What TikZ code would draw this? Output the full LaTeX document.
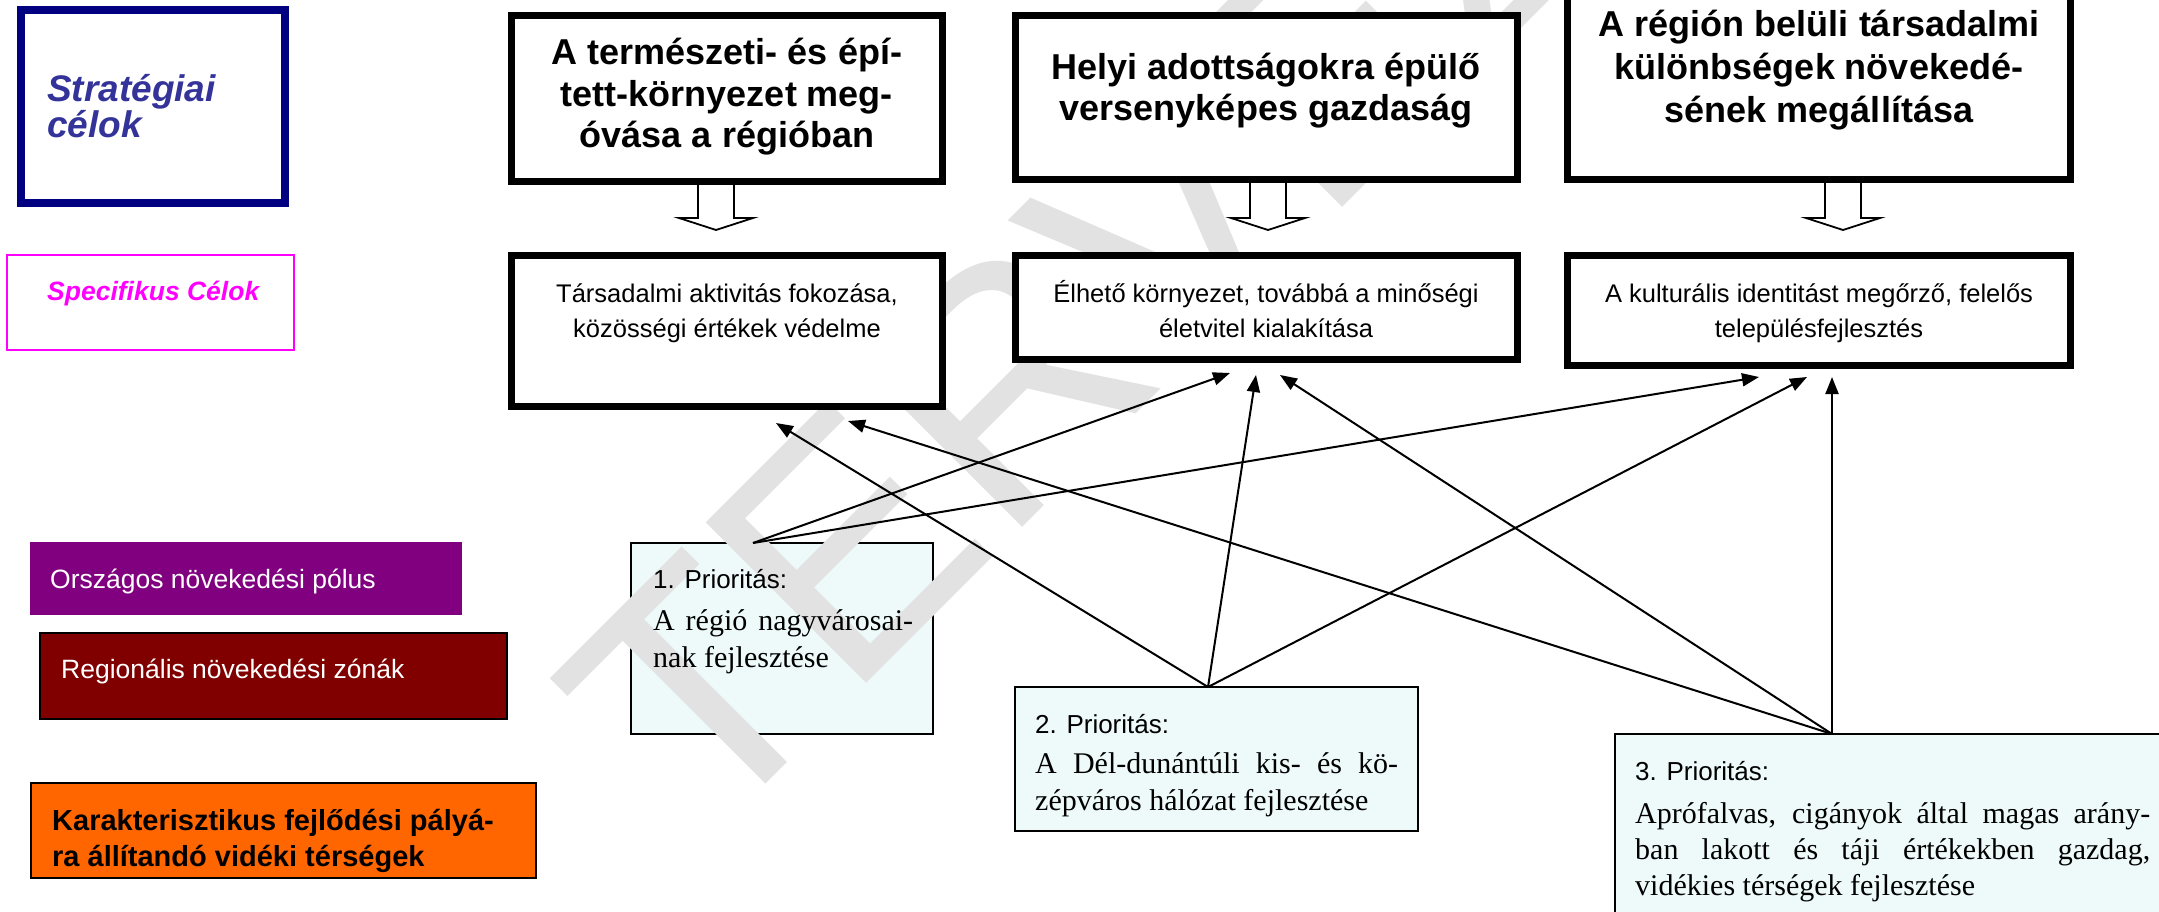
\documentclass[tikz,border=0pt]{standalone}
\usepackage{fontspec}
\setmainfont{Liberation Sans}
\newfontfamily\seriffam{Liberation Serif}
\usetikzlibrary{arrows.meta}
\definecolor{navyb}{HTML}{000080}
\definecolor{strtxt}{HTML}{333399}
\definecolor{magen}{HTML}{FF00FF}
\definecolor{purp}{HTML}{800080}
\definecolor{dred}{HTML}{800000}
\definecolor{orng}{HTML}{FF6600}
\definecolor{prio}{HTML}{EEFAFA}
\definecolor{wmark}{HTML}{E2E2E2}
\tikzset{
  goal/.style={draw=black, line width=7pt, fill=white, anchor=north west, inner sep=0pt, outer sep=0pt},
  goaltxt/.style={anchor=base, inner sep=0pt, font=\bfseries\fontsize{36}{40}\selectfont},
  spectxt/.style={anchor=base, inner sep=0pt, font=\fontsize{25.5}{30}\selectfont},
  prbox/.style={draw=black, line width=1.5pt, fill=prio, anchor=north west, inner sep=0pt, outer sep=0pt},
  prtitle/.style={anchor=base west, inner sep=0pt, font=\fontsize{26}{30}\selectfont},
  prtext/.style={anchor=base west, inner sep=0pt, font=\seriffam\fontsize{30}{34}\selectfont},
  legbox/.style={anchor=north west, inner sep=0pt, outer sep=0pt},
  legtxt/.style={anchor=base west, inner sep=0pt},
  conn/.style={line width=2pt, -{Triangle[length=17pt,width=13pt]}},
  hollow/.style={draw=black, line width=1.8pt, fill=white, line join=miter},
}
\begin{document}
\begin{tikzpicture}[x=1pt,y=-1pt]
\useasboundingbox (0,0) rectangle (2159,912);
\fill[white] (0,0) rectangle (2159,912);

% priority boxes (under the watermark)
\node[prbox, minimum width=302pt, minimum height=191pt] (p1) at (631,543) {};
\node[prbox, minimum width=403pt, minimum height=144pt] (p2) at (1015,687) {};
\node[prbox, minimum width=600pt, minimum height=250pt] (p3) at (1615,734) {};

% watermark
\node[rotate=45, anchor=base west, inner sep=0pt, text=wmark, font=\fontsize{330}{330}\selectfont] (wm) at (705,845) {TERVEZET};

% strategic / specific labels
\node[legbox, draw=navyb, line width=8pt, minimum width=264pt, minimum height=193pt] (strat) at (21,10) {};
\node[legtxt, text=strtxt, font=\bfseries\itshape\fontsize{37}{36}\selectfont] (strata) at (47,102) {Stratégiai};
\node[legtxt, text=strtxt, font=\bfseries\itshape\fontsize{37}{36}\selectfont] (stratb) at (47,138) {célok};
\node[legbox, draw=magen, line width=2pt, minimum width=287pt, minimum height=95pt] (spec) at (7,255) {};
\node[legtxt, text=magen, font=\bfseries\itshape\fontsize{26.5}{30}\selectfont] (speca) at (47,300) {Specifikus Célok};

% hollow arrows between goal boxes
\draw[hollow] (698,180) -- (698,218) -- (679,218) -- (716,230) -- (753,218) -- (734,218) -- (734,180);
\draw[hollow] (1250,178) -- (1250,218) -- (1231,218) -- (1268,230) -- (1305,218) -- (1286,218) -- (1286,178);
\draw[hollow] (1825,178) -- (1825,218) -- (1806,218) -- (1843,230) -- (1880,218) -- (1861,218) -- (1861,178);

% strategic goal boxes
\node[goal, minimum width=431pt, minimum height=166pt] (t1) at (511.5,15.5) {};
\node[goal, minimum width=502pt, minimum height=164pt] (t2) at (1015.5,15.5) {};
\node[goal, minimum width=503pt, minimum height=210pt] (t3) at (1567.5,-30) {};
\node[goaltxt] (t1a) at (727,65) {A természeti- és épí-};
\node[goaltxt] (t1b) at (727,107) {tett-környezet meg-};
\node[goaltxt] (t1c) at (727,148) {óvása a régióban};
\node[goaltxt] (t2a) at (1266,80) {Helyi adottságokra épülő};
\node[goaltxt] (t2b) at (1266,121) {versenyképes gazdaság};
\node[goaltxt] (t3a) at (1819,37) {A régión belüli társadalmi};
\node[goaltxt] (t3b) at (1819,80) {különbségek növekedé-};
\node[goaltxt] (t3c) at (1819,123) {sének megállítása};

% specific goal boxes
\node[goal, minimum width=431pt, minimum height=151pt] (s1) at (511.5,255.5) {};
\node[goal, minimum width=502pt, minimum height=104pt] (s2) at (1015.5,255.5) {};
\node[goal, minimum width=503pt, minimum height=110pt] (s3) at (1567.5,255.5) {};
\node[spectxt] (s1a) at (727,302) {Társadalmi aktivitás fokozása,};
\node[spectxt] (s1b) at (727,337) {közösségi értékek védelme};
\node[spectxt] (s2a) at (1266,302) {Élhető környezet, továbbá a minőségi};
\node[spectxt] (s2b) at (1266,337) {életvitel kialakítása};
\node[spectxt] (s3a) at (1819,302) {A kulturális identitást megőrző, felelős};
\node[spectxt] (s3b) at (1819,337) {településfejlesztés};

% legend boxes
\node[legbox, fill=purp, minimum width=432pt, minimum height=73pt] (orsz) at (30,542) {};
\node[legtxt, text=white, font=\fontsize{26.5}{30}\selectfont] (orsza) at (50,588) {Országos növekedési pólus};
\node[legbox, fill=dred, draw=black, line width=2pt, minimum width=467pt, minimum height=86pt] (regi) at (40,633) {};
\node[legtxt, text=white, font=\fontsize{26.5}{30}\selectfont] (regia) at (61,678) {Regionális növekedési zónák};
\node[legbox, fill=orng, draw=black, line width=2.5pt, minimum width=505pt, minimum height=95pt] (kar) at (31,783) {};
\node[legtxt, font=\bfseries\fontsize{29}{34}\selectfont] (kara) at (52,830) {Karakterisztikus fejlődési pályá-};
\node[legtxt, font=\bfseries\fontsize{29}{34}\selectfont] (karb) at (52,866) {ra állítandó vidéki térségek};

% priority texts
\node[prtitle] (p1a) at (653,588) {1. Prioritás:};
\node[prtext] (p1b) at (653,630) {\makebox[260pt][s]{A régió nagyvárosai-}};
\node[prtext] (p1c) at (653,667) {nak fejlesztése};
\node[prtitle] (p2a) at (1035,733) {2. Prioritás:};
\node[prtext] (p2b) at (1035,773) {\makebox[363pt][s]{A Dél-dunántúli kis- és kö-}};
\node[prtext] (p2c) at (1035,810) {zépváros hálózat fejlesztése};
\node[prtitle] (p3a) at (1635,780) {3. Prioritás:};
\node[prtext] (p3b) at (1635,823) {\makebox[515pt][s]{Aprófalvas, cigányok által magas arány-}};
\node[prtext] (p3c) at (1635,859) {\makebox[515pt][s]{ban lakott és táji értékekben gazdag,}};
\node[prtext] (p3d) at (1635,895) {vidékies térségek fejlesztése};

% connector end points below the specific boxes
\coordinate (e11) at (776,423);
\coordinate (e13) at (848,421);
\coordinate (e21) at (1230,373);
\coordinate (e22) at (1256,375);
\coordinate (e23) at (1280,375);
\coordinate (e31) at (1759,377);
\coordinate (e32) at (1807,377);
\coordinate (e33) at (1832,377);
\coordinate (p1top) at (753,543);
\coordinate (p2top) at (1208,687);
\coordinate (p3top) at (1832,734);

\draw[conn] (p1top) -- (e21);
\draw[conn] (p1top) -- (e31);
\draw[conn] (p2top) -- (e11);
\draw[conn] (p2top) -- (e22);
\draw[conn] (p2top) -- (e32);
\draw[conn] (p3top) -- (e13);
\draw[conn] (p3top) -- (e23);
\draw[conn] (p3top) -- (e33);
\end{tikzpicture}
\end{document}
